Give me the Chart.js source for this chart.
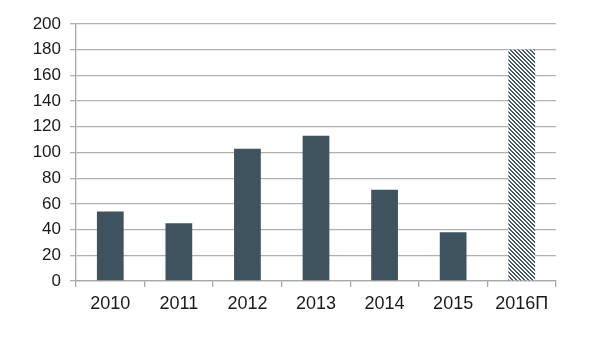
<!DOCTYPE html>
<html>
<head>
<meta charset="utf-8">
<script src="https://cdn.jsdelivr.net/npm/chart.js@4/dist/chart.umd.min.js"></script>
<style>
  html, body { margin: 0; padding: 0; background: #ffffff; }
  #wrap { width: 600px; height: 350px; position: relative; }
</style>
</head>
<body>
<div id="wrap"><canvas id="c" width="600" height="350"></canvas></div>
<script>
const categories = ['2010', '2011', '2012', '2013', '2014', '2015', '2016П'];
const values = [54, 45, 103, 113, 71, 38, 180];
const yTicks = { min: 0, max: 200, step: 20 };

function makeHatch() {
  const s = 4;
  const c = document.createElement('canvas');
  c.width = s; c.height = s;
  const g = c.getContext('2d');
  g.fillStyle = '#ffffff';
  g.fillRect(0, 0, s, s);
  g.fillStyle = '#4a5c66';
  for (let i = 0; i < s; i++) {
    g.fillRect(i, i, 1, 1);
    g.fillRect((i + 1) % s, i, 1, 1);
  }
  return g.createPattern(c, 'repeat');
}

const solid = '#3e535e';
const hatch = makeHatch();
const colors = categories.map((_, i) => i === categories.length - 1 ? hatch : solid);
const FONT = '"Liberation Sans Narrow", "Arial Narrow", "Liberation Sans", Arial, sans-serif';

new Chart(document.getElementById('c'), {
  type: 'bar',
  data: {
    labels: categories,
    datasets: [{
      data: values,
      backgroundColor: colors,
      borderWidth: 0,
      barPercentage: 0.39,
      categoryPercentage: 1.0
    }]
  },
  options: {
    responsive: false,
    animation: false,
    devicePixelRatio: 1,
    layout: { padding: { left: 0, right: 44, top: 24, bottom: 30 } },
    plugins: { legend: { display: false }, tooltip: { enabled: false } },
    scales: {
      x: {
        afterFit: (s) => { s.height = 39; },
        grid: {
          offset: true,
          drawOnChartArea: false,
          drawTicks: true,
          tickLength: 6,
          color: '#a8a8a8',
          lineWidth: 1.3
        },
        border: { display: true, color: '#a8a8a8', width: 1.3 },
        ticks: {
          color: '#1a1a1a',
          font: { family: FONT, size: 18 },
          padding: 6,
          maxRotation: 0
        }
      },
      y: {
        min: yTicks.min,
        max: yTicks.max,
        afterFit: (s) => { s.width = 76; },
        grid: {
          color: '#b0b0b0',
          lineWidth: 1.3,
          drawTicks: true,
          tickLength: 6
        },
        border: { display: true, color: '#a8a8a8', width: 1.3 },
        ticks: {
          stepSize: yTicks.step,
          color: '#1a1a1a',
          font: { family: FONT, size: 17 },
          padding: 9
        }
      }
    }
  }
});
</script>
</body>
</html>
